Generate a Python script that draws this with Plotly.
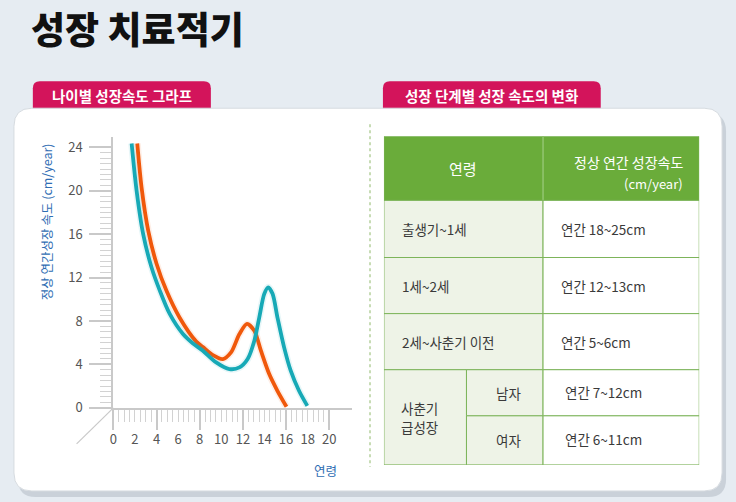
import plotly.graph_objects as go

# growth speed curves (age in years, speed in cm/year)
boys_age = [1.69, 2.15, 2.76, 3.53, 4.3, 5.22, 6.45, 7.35, 8.29, 9.52, 10.75, 11.68, 12.44,
            13.06, 13.52, 13.98, 14.35, 14.75, 15.2, 15.82, 16.43, 17.2, 17.97]
boys_speed = [24.35, 20.0, 16.0, 12.95, 10.8, 8.65, 6.8, 5.95, 5.26, 4.18, 3.57, 3.72, 4.49,
              6.18, 8.34, 10.5, 11.1, 10.5, 8.34, 5.57, 3.42, 1.57, 0.18]
girls_age = [2.21, 2.61, 3.23, 3.99, 4.91, 6.14, 7.68, 8.29, 9.22, 10.14, 10.9, 11.68,
             12.38, 13.06, 13.67, 14.44, 15.2, 16.04]
girls_speed = [24.35, 20.3, 16.3, 13.3, 10.8, 8.3, 6.1, 5.6, 4.85, 4.49, 5.1, 6.8,
               7.73, 7.1, 5.26, 3.11, 1.57, 0.1]

x_tick_labels = [0, 2, 4, 6, 8, 10, 12, 14, 16, 18, 20]
y_tick_labels = [0, 4, 8, 12, 16, 20, 24]

# table content
table_header = ["연령", "정상 연간 성장속도", "(cm/year)"]
age_groups = ["출생기~1세", "1세~2세", "2세~사춘기 이전"]
group_speeds = ["연간 18~25cm", "연간 12~13cm", "연간 5~6cm"]
puberty_label = ["사춘기", "급성장"]
puberty_sex = ["남자", "여자"]
puberty_speeds = ["연간 7~12cm", "연간 6~11cm"]

FONT = "Noto Sans CJK KR, sans-serif"
W, H = 736, 502          # design grid (reference pixels)
FIG_H = 512              # page height asked from plotly (photo gets fitted to 502)
BG = "#e6ecf2"
BOYS_COLOR = "#17a9b6"
GIRLS_COLOR = "#f0590c"
PINK = "#d3145b"
GREEN = "#6aac3a"
LIGHT_GREEN = "#eef3e7"
AXIS_GRAY = "#c9c9c9"
TEXT = "#3a3a3a"


# helpers: pixel -> paper
def px(x):
    return x / W


def py(y):
    return 1 - y / H


def rounded_rect(x0, y0, x1, y1, r, top_only=False):
    # path in paper units from pixel box
    pts = []
    pts.append("M {} {}".format(px(x0), py(y0 + r)))
    pts.append("Q {} {} {} {}".format(px(x0), py(y0), px(x0 + r), py(y0)))
    pts.append("L {} {}".format(px(x1 - r), py(y0)))
    pts.append("Q {} {} {} {}".format(px(x1), py(y0), px(x1), py(y0 + r)))
    if top_only:
        pts.append("L {} {}".format(px(x1), py(y1)))
        pts.append("L {} {}".format(px(x0), py(y1)))
    else:
        pts.append("L {} {}".format(px(x1), py(y1 - r)))
        pts.append("Q {} {} {} {}".format(px(x1), py(y1), px(x1 - r), py(y1)))
        pts.append("L {} {}".format(px(x0 + r), py(y1)))
        pts.append("Q {} {} {} {}".format(px(x0), py(y1), px(x0), py(y1 - r)))
    pts.append("Z")
    return " ".join(pts)


fig = go.Figure()

#glow under each curve then the curve itself
for ages, speeds, col in [(girls_age, girls_speed, GIRLS_COLOR), (boys_age, boys_speed, BOYS_COLOR)]:
    fig.add_trace(go.Scatter(x=ages, y=speeds, mode="lines", hoverinfo="skip",
                             line=dict(color=col, width=7, shape="spline", smoothing=0.8),
                             opacity=0.1, showlegend=False))
    fig.add_trace(go.Scatter(x=ages, y=speeds, mode="lines",
                             line=dict(color=col, width=3.8, shape="spline", smoothing=0.8),
                             showlegend=False))

# invisible trace so the label axis gets drawn
fig.add_trace(go.Scatter(x=[0], y=[0], xaxis="x3", yaxis="y", mode="markers",
                         marker=dict(opacity=0), hoverinfo="skip", showlegend=False))

x_range = [0, (350 - 110) / 10.85]
y_range = [0, (407 - 137) / 10.833]

shapes = []
annotations = []

# panel shadow, tabs, white panel
shapes.append(dict(type="path", xref="paper", yref="paper", layer="below",
                   path=rounded_rect(14, 113, 726, 496, 18),
                   fillcolor="rgba(150,160,172,0.35)", line=dict(width=0)))
for x0, x1 in [(29, 208), (381, 600)]:
    shapes.append(dict(type="path", xref="paper", yref="paper", layer="below",
                       path=rounded_rect(x0, 81, x1, 110, 7, top_only=True),
                       fillcolor=PINK, line=dict(width=0)))
shapes.append(dict(type="path", xref="paper", yref="paper", layer="below",
                   path=rounded_rect(10, 108, 722, 490, 18),
                   fillcolor="white", line=dict(color="#d6dbe0", width=1)))
# decorative diagonal from the origin and dotted divider
shapes.append(dict(type="line", xref="paper", yref="paper", layer="below",
                   x0=px(110), y0=py(407), x1=px(73), y1=py(443),
                   line=dict(color=AXIS_GRAY, width=1.2)))
shapes.append(dict(type="line", xref="paper", yref="paper", layer="below",
                   x0=px(368), y0=py(124), x1=px(368), y1=py(466),
                   line=dict(color="#8fb86a", width=1, dash="dot")))

# table (x2/y2 units are pixel-sized)
col_split = 160
sub_split = 83
tbl_w = 317
row_h = [64, 57, 56, 56, 46, 49]
row_top = [sum(row_h[:i]) for i in range(len(row_h))]

def cell(x0, x1, y0, y1, fill):
    shapes.append(dict(type="rect", xref="x2", yref="y2", x0=x0, x1=x1, y0=y0, y1=y1,
                       fillcolor=fill, line=dict(color="#7db45a", width=1), layer="above"))

def txt(x, y, s, size=13.5, color=TEXT, anchor="left"):
    annotations.append(dict(xref="x2", yref="y2", x=x, y=y, text=s, showarrow=False,
                            xanchor=anchor, yanchor="middle",
                            font=dict(family=FONT, size=size, color=color)))

# header
cell(0, col_split, 0, row_h[0], GREEN)
cell(col_split, tbl_w, 0, row_h[0], GREEN)
shapes.append(dict(type="line", xref="x2", yref="y2", x0=col_split, x1=col_split, y0=0, y1=row_h[0],
                   line=dict(color="#9ccc78", width=1), layer="above"))
txt(col_split / 2, 32, table_header[0], size=15, color="white", anchor="center")
txt(303, 26, table_header[1], size=14, color="white", anchor="right")
txt(303, 47, table_header[2], size=13, color="white", anchor="right")

for i, (grp, spd) in enumerate(zip(age_groups, group_speeds)):
    y0 = row_top[i + 1]
    y1 = y0 + row_h[i + 1]
    cell(0, col_split, y0, y1, LIGHT_GREEN)
    cell(col_split, tbl_w, y0, y1, "white")
    txt(16, (y0 + y1) / 2, grp)
    txt(176, (y0 + y1) / 2, spd)

p_top = row_top[4]
p_bot = row_top[5] + row_h[5]
cell(0, sub_split, p_top, p_bot, LIGHT_GREEN)
p_mid = (p_top + p_bot) / 2
txt(36, p_mid - 9.5, puberty_label[0], anchor="center")
txt(36, p_mid + 9.5, puberty_label[1], anchor="center")
for j, (sex, spd) in enumerate(zip(puberty_sex, puberty_speeds)):
    y0 = row_top[4 + j]
    y1 = y0 + row_h[4 + j]
    cell(sub_split, col_split, y0, y1, LIGHT_GREEN)
    cell(col_split, tbl_w, y0, y1, "white")
    txt(125, (y0 + y1) / 2, sex, anchor="center")
    txt(180, (y0 + y1) / 2 - 1, spd)

# titles and labels
annotations.append(dict(xref="paper", yref="paper", x=px(25), y=py(28), text="성장 치료적기",
                        showarrow=False, xanchor="left", yanchor="middle",
                        font=dict(family=FONT, size=37, color="#111111", weight=900)))
annotations.append(dict(xref="paper", yref="paper", x=px(118.5), y=py(95), text="나이별 성장속도 그라프",
                        showarrow=False, xanchor="center", yanchor="middle",
                        font=dict(family=FONT, size=14.5, color="white", weight=700)))
annotations.append(dict(xref="paper", yref="paper", x=px(490.5), y=py(95), text="성장 단계별 성장 속도의 변화",
                        showarrow=False, xanchor="center", yanchor="middle",
                        font=dict(family=FONT, size=14.5, color="white", weight=700)))
annotations.append(dict(xref="paper", yref="paper", x=px(43), y=py(221),
                        text="정상 연간성장 속도 (cm/year)", textangle=-90,
                        showarrow=False, xanchor="center", yanchor="middle",
                        font=dict(family=FONT, size=12.5, color="#2f6db3")))
annotations.append(dict(xref="paper", yref="paper", x=px(323), y=py(470), text="연령",
                        showarrow=False, xanchor="center", yanchor="middle",
                        font=dict(family=FONT, size=12.5, color="#2f6db3")))

fig.update_layout(
    width=W, height=FIG_H,
    margin=dict(l=0, r=0, t=0, b=0),
    paper_bgcolor=BG,
    plot_bgcolor="rgba(0,0,0,0)",
    showlegend=False,
    shapes=shapes,
    annotations=annotations,
    xaxis=dict(domain=[px(110), px(350)], range=x_range, anchor="y",
               showline=True, linecolor=AXIS_GRAY, linewidth=2,
               showgrid=False, zeroline=False,
               ticks="outside", tickmode="linear", tick0=0, dtick=4,
               ticklen=20, tickwidth=2, tickcolor=AXIS_GRAY, showticklabels=False,
               minor=dict(tickmode="array", tickvals=[v / 2 for v in range(0, 41)],
                          ticks="outside", ticklen=12, tickwidth=1.2, tickcolor="#d2d2d2"),
               fixedrange=True),
    xaxis3=dict(overlaying="x", anchor="y", range=x_range, tickmode="array",
                tickvals=x_tick_labels, ticktext=[str(v) for v in x_tick_labels],
                ticks="", showline=False, showgrid=False, zeroline=False,
                ticklabelstandoff=22,
                tickfont=dict(family=FONT, size=13, color="#555555")),
    yaxis=dict(domain=[py(407), py(137)], range=y_range, anchor="x",
               showline=True, linecolor=AXIS_GRAY, linewidth=2,
               showgrid=False, zeroline=False,
               ticks="outside", tickmode="array", tickvals=y_tick_labels,
               ticktext=[str(v) for v in y_tick_labels],
               ticklen=22, tickwidth=2, tickcolor=AXIS_GRAY, ticklabelstandoff=4,
               tickfont=dict(family=FONT, size=13, color="#555555"),
               minor=dict(tickmode="array", tickvals=[v / 2 for v in range(0, 49)],
                          ticks="outside", ticklen=11, tickwidth=1.2, tickcolor="#d2d2d2")),
    xaxis2=dict(domain=[px(382), px(699)], range=[0, tbl_w], anchor="y2", visible=False,
                fixedrange=True),
    yaxis2=dict(domain=[py(464), py(136)], range=[sum(row_h), 0], anchor="x2", visible=False,
                fixedrange=True),
)

# page margin off so the figure sits at the window corner
fig.write_html("out.html", config={"displayModeBar": False},
               post_script="document.body.style.margin='0';document.body.style.background='" + BG + "';")
